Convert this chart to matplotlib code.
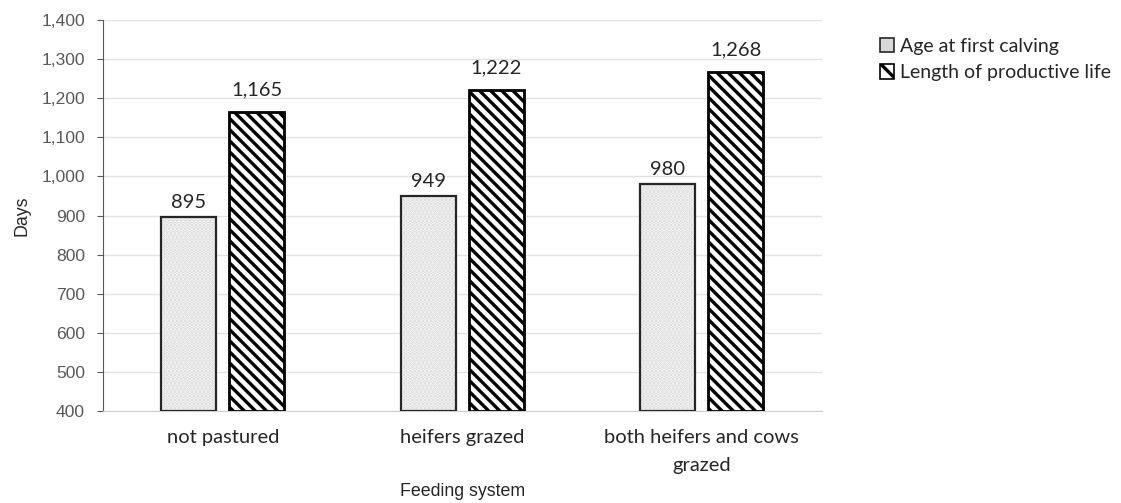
import numpy as np
import matplotlib.pyplot as plt
from matplotlib.patches import Patch

categories = ["not pastured", "heifers grazed", "both heifers and cows\ngrazed"]
age_first_calving = [895, 949, 980]
productive_life = [1165, 1222, 1268]
series_names = ["Age at first calving", "Length of productive life"]

plt.rcParams['hatch.linewidth'] = 2.4
label_font = "Lato"
axis_font = "Liberation Sans"

fig = plt.figure(figsize=(11.21, 5.03), dpi=100)
ax = fig.add_axes([0.092, 0.183, 0.641, 0.777])

x = np.arange(len(categories))
width = 0.23
offset = 0.142

# dotted grey bars: fill + white dot hatch, then a dark outline
ax.bar(x - offset, np.array(age_first_calving) - 400, width, bottom=400,
       color='#d8d8d8', hatch='....', edgecolor='#f4f4f4', linewidth=0, zorder=2)
ax.bar(x - offset, np.array(age_first_calving) - 400, width, bottom=400,
       fill=False, edgecolor='#262626', linewidth=1.6, zorder=3)

# diagonal striped bars
ax.bar(x + offset, np.array(productive_life) - 400, width, bottom=400,
       color='white', hatch='\\\\\\', edgecolor='black', linewidth=2.0, zorder=3)

for xi, v in zip(x - offset, age_first_calving):
    ax.text(xi, v + 16, f"{v:,}", ha='center', va='bottom', fontsize=14.5,
            family=label_font, color='#262626')
for xi, v in zip(x + offset, productive_life):
    ax.text(xi, v + 34, f"{v:,}", ha='center', va='bottom', fontsize=14.5,
            family=label_font, color='#262626')

ax.set_xlim(-0.5, 2.5)
ax.set_ylim(400, 1400)
ax.set_yticks(np.arange(400, 1401, 100))
ax.set_yticklabels([f"{t:,}" for t in range(400, 1401, 100)],
                   family=axis_font, fontsize=12.6, color='#595959')
ax.set_xticks(x)
ax.set_xticklabels(categories, family=label_font, fontsize=14.5, color='#262626',
                   linespacing=1.75)
ax.tick_params(axis='x', length=0, pad=13)
ax.tick_params(axis='y', direction='out', length=4, color='#595959', pad=9)

ax.grid(axis='y', color='#e3e3e3', linewidth=1.0, zorder=0)
ax.set_axisbelow(True)
for s in ['top', 'right']:
    ax.spines[s].set_visible(False)
ax.spines['left'].set_color('#595959')
ax.spines['bottom'].set_color('#d0d0d0')

ax.set_ylabel("Days", family=axis_font, fontsize=12.8, color='#262626', labelpad=8)
ax.set_xlabel("Feeding system", family=axis_font, fontsize=12.8, color='#262626',
              labelpad=7)

handles = [
    Patch(facecolor='#d8d8d8', edgecolor='#262626', linewidth=1.2),
    Patch(facecolor='white', edgecolor='black', hatch='\\\\', linewidth=1.2),
]
fig.legend(handles, series_names, loc='upper left', bbox_to_anchor=(0.769, 0.96),
           frameon=False, prop={'family': label_font, 'size': 14},
           handlelength=0.75, handleheight=0.75, handletextpad=0.3, labelspacing=0.5,
           labelcolor='#262626')

fig.savefig("out.png", dpi=100)
